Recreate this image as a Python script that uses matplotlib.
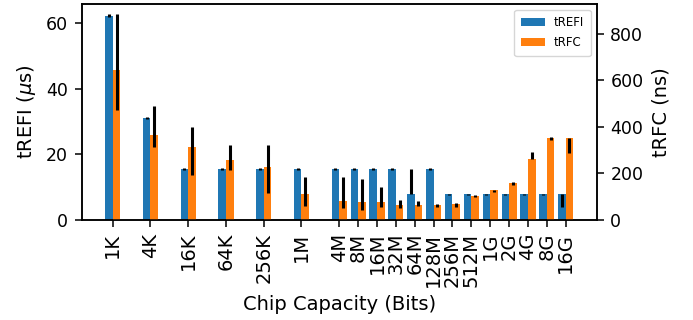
import numpy as np
import matplotlib
matplotlib.use("Agg")
import matplotlib.pyplot as plt

# chip capacities, placed on a log2 axis
labels = ["1K", "4K", "16K", "64K", "256K", "1M", "4M", "8M", "16M", "32M",
          "64M", "128M", "256M", "512M", "1G", "2G", "4G", "8G", "16G"]
log2_bits = [10, 12, 14, 16, 18, 20, 22, 23, 24, 25, 26, 27, 28, 29, 30, 31, 32, 33, 34]

# tREFI (us): value, lower end, upper end of the error bar
trefi = [62.4, 31.2, 15.6, 15.6, 15.6, 15.6, 15.6, 15.6, 15.6, 15.6,
         7.8, 15.6, 7.8, 7.8, 7.8, 7.8, 7.8, 7.8, 7.8]
trefi_lo = [62.0, 30.9, 15.4, 15.4, 15.4, 15.4, 15.4, 15.4, 15.4, 15.4,
            7.8, 15.4, 7.6, 7.6, 7.6, 7.6, 7.6, 7.6, 3.9]
trefi_hi = [62.8, 31.5, 15.8, 15.8, 15.8, 15.8, 15.8, 15.8, 15.8, 15.8,
            15.6, 15.8, 8.0, 8.0, 8.0, 8.0, 8.0, 8.0, 7.8]

# tRFC (ns)
trfc = [645, 366, 314, 256, 228, 110, 82, 78, 78, 65,
        65, 65, 69, 103, 127, 160, 260, 350, 350]
trfc_lo = [471, 313, 195, 214, 116, 62, 53, 44, 57, 53,
           62, 57, 57, 99, 121, 151, 260, 345, 289]
trfc_hi = [883, 488, 400, 322, 322, 184, 184, 175, 141, 86,
           80, 70, 73, 108, 129, 162, 293, 355, 350]

# slightly heavier frame and ticks
plt.rcParams.update({
    "axes.linewidth": 1.1,
    "xtick.major.size": 4.8, "ytick.major.size": 4.8,
    "xtick.major.width": 1.1, "ytick.major.width": 1.1,
    "xtick.major.pad": 4.5, "ytick.major.pad": 5.0,
})

x = np.array(log2_bits, dtype=float)
w = 0.4

fig = plt.figure(figsize=(6.93, 3.2), dpi=100)
ax1 = fig.add_axes([0.118, 0.3125, 0.743, 0.675])
ax2 = ax1.twinx()

t = np.array(trefi)
err1 = [t - np.array(trefi_lo), np.array(trefi_hi) - t]
r = np.array(trfc)
err2 = [r - np.array(trfc_lo), np.array(trfc_hi) - r]

b1 = ax1.bar(x - w / 2, t, w, yerr=err1, color="#1f77b4", label="tREFI",
             error_kw=dict(ecolor="black", elinewidth=2.2, capsize=0))
b2 = ax2.bar(x + w / 2, r, w, yerr=err2, color="#ff7f0e", label="tRFC",
             error_kw=dict(ecolor="black", elinewidth=2.2, capsize=0))

ax1.set_xticks(x)
ax1.set_xticklabels(labels, rotation=90, fontsize=14)
ax1.set_xlabel("Chip Capacity (Bits)", fontsize=14, labelpad=6)
ax1.set_ylabel(r"tREFI ($\mu$s)", fontsize=14, labelpad=6)
ax2.set_ylabel("tRFC (ns)", fontsize=14, labelpad=6)
ax1.set_yticks([0, 20, 40, 60])
ax2.set_yticks([0, 200, 400, 600, 800])
ax1.tick_params(axis="y", labelsize=12.5)
ax2.tick_params(axis="y", labelsize=12.5)

ax2.legend([b1, b2], ["tREFI", "tRFC"], loc="upper right", fontsize=8.5,
           labelspacing=0.6, borderpad=0.55)

fig.savefig("out.png", dpi=100)
